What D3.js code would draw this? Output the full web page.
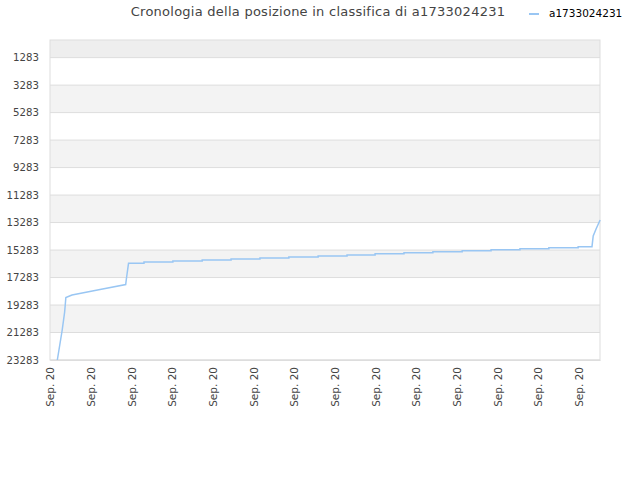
<!DOCTYPE html>
<html>
<head>
<meta charset="utf-8">
<script src="https://cdn.jsdelivr.net/npm/d3@7"></script>
<style>
  body { margin: 0; background: #fff; }
  text { font-family: "DejaVu Sans", sans-serif; }
</style>
</head>
<body>
<div id="chart"></div>
<script>
// data: day offset within the month, rank
var days = [0.18, 0.30, 0.36, 0.39, 0.54, 0.76, 1.23, 1.86, 1.88, 1.93,
            2.31, 2.31, 3.02, 3.02, 3.74, 3.74, 4.45, 4.45, 5.16, 5.16,
            5.87, 5.87, 6.59, 6.59, 7.30, 7.30, 7.99, 7.99, 8.70, 8.70,
            9.41, 9.41, 10.13, 10.13, 10.84, 10.84, 11.55, 11.55, 12.26, 12.26,
            12.98, 12.98, 13.32, 13.35, 13.42, 13.52];
var ranks = [23283, 21100, 19791, 18736, 18554, 18430, 18154, 17790, 17317, 16247,
             16247, 16153, 16153, 16080, 16080, 16007, 16007, 15934, 15934, 15862,
             15862, 15789, 15789, 15716, 15716, 15643, 15643, 15549, 15549, 15476,
             15476, 15403, 15403, 15330, 15330, 15258, 15258, 15185, 15185, 15112,
             15112, 15039, 15039, 14261, 13752, 13097];
var yTicks = [1283, 3283, 5283, 7283, 9283, 11283, 13283, 15283, 17283, 19283, 21283, 23283];
var xTicks = [0, 1, 2, 3, 4, 5, 6, 7, 8, 9, 10, 11, 12, 13];
var xTickLabel = "Sep. 20";
var seriesName = "a1733024231";
var title = "Cronologia della posizione in classifica di a1733024231";

var width = 640, height = 480;
var margin = {top: 40, right: 40, bottom: 120, left: 50};
var w = width - margin.left - margin.right;
var h = height - margin.top - margin.bottom;

var svg = d3.select("#chart").append("svg")
  .attr("width", width).attr("height", height);

var x = d3.scaleLinear().domain([0, 13.517]).range([0, w]);
var y = d3.scaleLinear().domain([0, 23283]).range([0, h]);

var g = svg.append("g").attr("transform", "translate(" + margin.left + "," + margin.top + ")");

// alternating bands between ticks
var bandEdges = [0].concat(yTicks);
for (var i = 0; i < bandEdges.length - 1; i++) {
  if (i % 2 == 0) {
    g.append("rect")
      .attr("x", 0).attr("width", w)
      .attr("y", y(bandEdges[i]))
      .attr("height", y(bandEdges[i + 1]) - y(bandEdges[i]))
      .attr("fill", i == 0 ? "#eeeeee" : "#f3f3f3");
  }
}

// grid lines
g.selectAll("line.grid").data(yTicks).enter().append("line")
  .attr("class", "grid")
  .attr("x1", 0).attr("x2", w)
  .attr("y1", function(d) { return y(d); })
  .attr("y2", function(d) { return y(d); })
  .attr("stroke", "#dddddd").attr("stroke-width", 1);

g.append("rect")
  .attr("x", 0).attr("y", 0).attr("width", w).attr("height", h)
  .attr("fill", "none").attr("stroke", "#dddddd");

// y axis
var yAxis = g.append("g").call(d3.axisLeft(y).tickValues(yTicks).tickSize(0).tickPadding(11).tickFormat(d3.format("d")));
yAxis.select(".domain").remove();
yAxis.selectAll("text").attr("fill", "#444").style("font-size", "10.2px");

// x axis
var xAxis = g.append("g").attr("transform", "translate(0," + h + ")")
  .call(d3.axisBottom(x).tickValues(xTicks).tickSize(0).tickFormat(function() { return xTickLabel; }));
xAxis.select(".domain").attr("stroke", "#dddddd");
xAxis.selectAll("text")
  .attr("fill", "#444").style("font-size", "10.5px")
  .attr("transform", "rotate(-90)")
  .attr("text-anchor", "end")
  .attr("x", -7).attr("y", 0).attr("dy", "0.35em");

// the line
var line = d3.line()
  .x(function(d, i) { return x(days[i]); })
  .y(function(d) { return y(d); });

g.append("path")
  .datum(ranks)
  .attr("d", line)
  .attr("fill", "none")
  .attr("stroke", "#99c6f3")
  .attr("stroke-width", 1.5);

// title and legend
svg.append("text")
  .attr("x", 318).attr("y", 16)
  .attr("text-anchor", "middle")
  .attr("fill", "#444")
  .style("font-size", "13px")
  .style("letter-spacing", "0.25px")
  .text(title);

svg.append("line")
  .attr("x1", 529).attr("x2", 539).attr("y1", 14).attr("y2", 14)
  .attr("stroke", "#99c6f3").attr("stroke-width", 2);
svg.append("text")
  .attr("x", 549).attr("y", 17)
  .attr("fill", "#000")
  .style("font-size", "10.5px")
  .text(seriesName);
</script>
</body>
</html>
